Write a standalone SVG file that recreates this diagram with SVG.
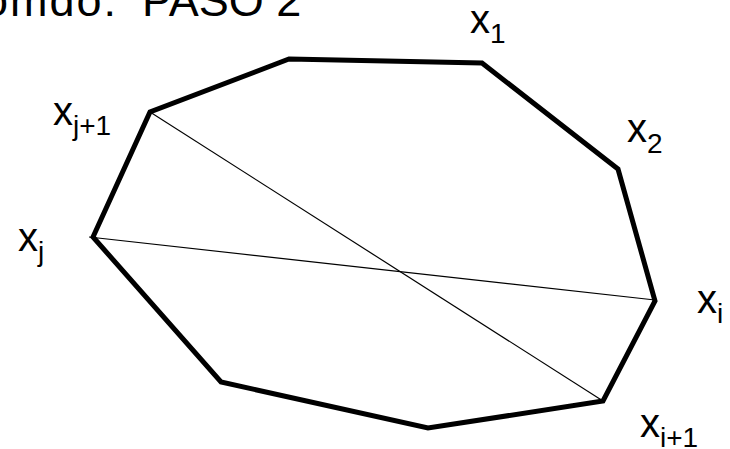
<svg xmlns="http://www.w3.org/2000/svg" width="730" height="449" viewBox="0 0 730 449">
<style>
text{font-family:"Liberation Sans",Arial,sans-serif;fill:#000}
.lbl{font-size:40px}
.sub{font-size:28px}
.title{font-size:45px}
.edge{fill:none;stroke:#000;stroke-width:5;stroke-linejoin:miter}
.diag{stroke:#000;stroke-width:1.2;fill:none}
</style>
<rect width="730" height="449" fill="#fff"/>
<text class="title" x="-17" y="16"><tspan letter-spacing="2">omdo:</tspan><tspan x="142">PASO 2</tspan></text>
<g id="polygon">
<polygon class="edge" points="289,59 482,63 618,169 655,301 603,401 428,428 221,382 93,237 150,112"/>
</g>
<g id="connectors">
<line class="diag" x1="150" y1="112" x2="603" y2="401"/>
<line class="diag" x1="89" y1="237" x2="655" y2="300"/>
</g>
<g id="label-x1"><text x="470" y="33"><tspan class="lbl">x</tspan><tspan class="sub" dy="10">1</tspan></text></g>
<g id="label-x2"><text x="627" y="142"><tspan class="lbl">x</tspan><tspan class="sub" dy="11">2</tspan></text></g>
<g id="label-xj1"><text x="53" y="125"><tspan class="lbl">x</tspan><tspan class="sub" dy="10">j+1</tspan></text></g>
<g id="label-xj"><text x="18" y="251"><tspan class="lbl">x</tspan><tspan class="sub" dy="10">j</tspan></text></g>
<g id="label-xi"><text x="697" y="313"><tspan class="lbl">x</tspan><tspan class="sub" dy="10">i</tspan></text></g>
<g id="label-xi1"><text x="640" y="437"><tspan class="lbl">x</tspan><tspan class="sub" dy="10">i+1</tspan></text></g>
</svg>
